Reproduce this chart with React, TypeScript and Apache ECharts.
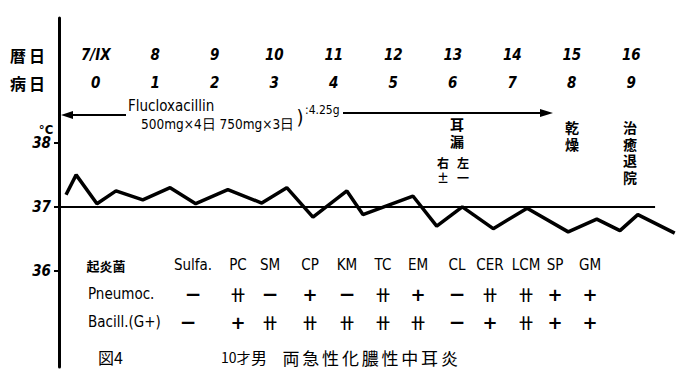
import React, { useEffect, useRef } from "react";
import * as echarts from "echarts";

// ---- data ----
const CAL_DAYS = ["7/IX", "8", "9", "10", "11", "12", "13", "14", "15", "16"];
const ILL_DAYS = ["0", "1", "2", "3", "4", "5", "6", "7", "8", "9"];
const DAY_VALUES = [0, 1, 2, 3, 4, 5, 6, 7, 8, 9];

// time of each reading (in illness days) and body temperature (°C)
const TEMP_TIMES = [
  -0.5, -0.33, 0.02, 0.34, 0.79, 1.25, 1.68, 2.22, 2.79, 3.21, 3.65, 4.22,
  4.49, 5.33, 5.73, 6.16, 6.68, 7.25, 7.94, 8.42, 8.81, 9.11, 9.73,
];
const TEMPS = [
  37.19, 37.5, 37.05, 37.25, 37.11, 37.3, 37.05, 37.27, 37.06, 37.3, 36.84,
  37.25, 36.88, 37.17, 36.7, 37.0, 36.66, 36.98, 36.61, 36.81, 36.63, 36.88,
  36.59,
];
const NORMAL_TEMP = 37;
const NORMAL_END = 9.4;
const Y_TICKS = [36, 37, 38];

const DRUGS = ["Sulfa.", "PC", "SM", "CP", "KM", "TC", "EM", "CL", "CER", "LCM", "SP", "GM"];
const PNEUMOC = ["−", "卄", "−", "+", "−", "卄", "+", "−", "卄", "卄", "+", "+"];
const BACILL = ["−", "+", "卄", "卄", "卄", "卄", "卄", "−", "+", "卄", "+", "+"];
const DIAGNOSIS = "両急性化膿性中耳炎";

// ---- layout ----
const X_MIN = -0.618;
const X_MAX = 9.903;
const COL_X = [193, 238, 270, 310, 347, 383, 418, 457, 490, 526, 555, 590];
const LATIN = "'DejaVu Sans Condensed', 'Liberation Sans Narrow', 'DejaVu Sans', sans-serif";
const CJK = "'Noto Sans CJK JP', sans-serif";

function txt(text: string, x: number, y: number, o: any = {}) {
  return {
    type: "text",
    x,
    y,
    silent: true,
    style: {
      text,
      fill: "#000",
      fontSize: o.size || 15,
      fontFamily: o.family || LATIN,
      fontWeight: o.weight || "normal",
      fontStyle: o.style || "normal",
      align: o.align || "center",
      verticalAlign: "middle",
      lineHeight: o.lineHeight,
    },
  };
}

function symbolText(s: string, x: number, y: number) {
  if (s === "卄") return txt(s, x, y, { size: 14, family: CJK, weight: "bold" });
  if (s === "+") return txt(s, x, y, { size: 18, family: "'DejaVu Sans', sans-serif", weight: "bold" });
  return txt(s, x, y, { size: 20, family: "'DejaVu Sans', sans-serif", weight: "bold" });
}

export default function App() {
  const ref = useRef<HTMLDivElement>(null);
  useEffect(() => {
    if (!ref.current) return;
    const chart = echarts.init(ref.current, undefined, { renderer: "svg" });

    const graphics: any[] = [];
    // row headers
    graphics.push(txt("暦", 18, 55, { size: 16, family: CJK, weight: "bold" }));
    graphics.push(txt("日", 37, 55, { size: 16, family: CJK, weight: "bold" }));
    graphics.push(txt("病", 18, 83, { size: 16, family: CJK, weight: "bold" }));
    graphics.push(txt("日", 37, 83, { size: 16, family: CJK, weight: "bold" }));
    graphics.push(txt("°C", 46, 129, { size: 13, weight: "bold" }));

    // antibiotic arrow
    graphics.push({ type: "line", shape: { x1: 66, y1: 115, x2: 126, y2: 115 }, style: { stroke: "#000", lineWidth: 2 } });
    graphics.push({ type: "polygon", shape: { points: [[61, 115], [73, 111], [73, 119]] }, style: { fill: "#000" } });
    graphics.push(txt("Flucloxacillin", 128, 106, { size: 15, align: "left" }));
    graphics.push(txt("500mg×4日 750mg×3日", 141, 124, { size: 13.5, align: "left" }));
    graphics.push(txt(")", 300, 117, { size: 20 }));
    graphics.push(txt(":4.25g", 305, 110, { size: 12, align: "left" }));
    graphics.push({ type: "line", shape: { x1: 343, y1: 113, x2: 545, y2: 113 }, style: { stroke: "#000", lineWidth: 2 } });
    graphics.push({ type: "polygon", shape: { points: [[553, 113], [540, 109], [540, 117]] }, style: { fill: "#000" } });

    // clinical notes (vertical writing)
    graphics.push(txt("耳\n漏", 457, 132.5, { size: 14, family: CJK, weight: "bold", lineHeight: 17 }));
    graphics.push(txt("右\n±", 443, 170, { size: 12, family: CJK, weight: "bold", lineHeight: 15 }));
    graphics.push(txt("左\n一", 463, 170, { size: 12, family: CJK, weight: "bold", lineHeight: 15 }));
    graphics.push(txt("乾\n燥", 572, 135.5, { size: 14, family: CJK, weight: "bold", lineHeight: 17 }));
    graphics.push(txt("治\n癒\n退\n院", 630, 151.75, { size: 14, family: CJK, weight: "bold", lineHeight: 16.5 }));

    // sensitivity table
    graphics.push(txt("起炎菌", 106, 265, { size: 13, family: CJK, weight: "bold" }));
    graphics.push(txt("Pneumoc.", 88, 294, { size: 15, align: "left" }));
    graphics.push(txt("Bacill.(G+)", 88, 322, { size: 15, align: "left" }));
    DRUGS.forEach((d, i) => graphics.push(txt(d, COL_X[i], 265, { size: 15 })));
    PNEUMOC.forEach((s, i) => graphics.push(symbolText(s, COL_X[i], 294)));
    BACILL.forEach((s, i) => graphics.push(symbolText(s, i === 0 ? COL_X[i] - 5 : COL_X[i], 322)));

    // caption
    graphics.push(txt("図4", 98, 357, { size: 16, family: CJK, align: "left" }));
    graphics.push(txt("10才", 221, 357, { size: 14, family: CJK, align: "left" }));
    graphics.push(txt("男", 251, 357, { size: 16, family: CJK, align: "left" }));
    DIAGNOSIS.split("").forEach((c, i) =>
      graphics.push(txt(c, 291 + i * 19.8, 357, { size: 17, family: CJK }))
    );

    const dayAxis = (labels: string[], y: number) => ({
      type: "value",
      min: X_MIN,
      max: X_MAX,
      position: "top",
      offset: 18 - y,
      axisLine: { show: false },
      axisTick: { show: false },
      splitLine: { show: false },
      axisLabel: {
        customValues: DAY_VALUES,
        formatter: (v: number) => labels[Math.round(v)] ?? "",
        margin: 0,
        verticalAlign: "middle",
        color: "#000",
        fontSize: 15,
        fontWeight: "bold",
        fontStyle: "italic",
        fontFamily: LATIN,
      },
    });

    chart.setOption({
      animation: false,
      backgroundColor: "#fff",
      grid: { left: 59, right: 0, top: 18, bottom: 5, containLabel: false },
      xAxis: [dayAxis(CAL_DAYS, 55), dayAxis(ILL_DAYS, 83)],
      yAxis: {
        type: "value",
        min: 34.5,
        max: 39.95,
        axisLine: { show: true, onZero: false, lineStyle: { color: "#000", width: 3 } },
        axisTick: { show: true, customValues: Y_TICKS, length: 5, lineStyle: { color: "#000", width: 2 } },
        axisLabel: {
          customValues: Y_TICKS,
          color: "#000",
          fontSize: 15,
          fontStyle: "italic",
          fontWeight: "bold",
          fontFamily: LATIN,
          margin: 8,
        },
        splitLine: { show: false },
      },
      series: [
        {
          type: "line",
          xAxisIndex: 0,
          data: [[X_MIN, NORMAL_TEMP], [NORMAL_END, NORMAL_TEMP]],
          symbol: "none",
          lineStyle: { color: "#000", width: 2 },
          silent: true,
        },
        {
          type: "line",
          xAxisIndex: 0,
          data: TEMP_TIMES.map((t, i) => [t, TEMPS[i]]),
          symbol: "none",
          lineStyle: { color: "#000", width: 3.5 },
          silent: true,
        },
      ],
      graphic: graphics,
    });
    return () => chart.dispose();
  }, []);
  return (
    <div
      ref={ref}
      style={{ position: "absolute", left: 0, top: 0, width: 685, height: 372, background: "#fff" }}
    />
  );
}
